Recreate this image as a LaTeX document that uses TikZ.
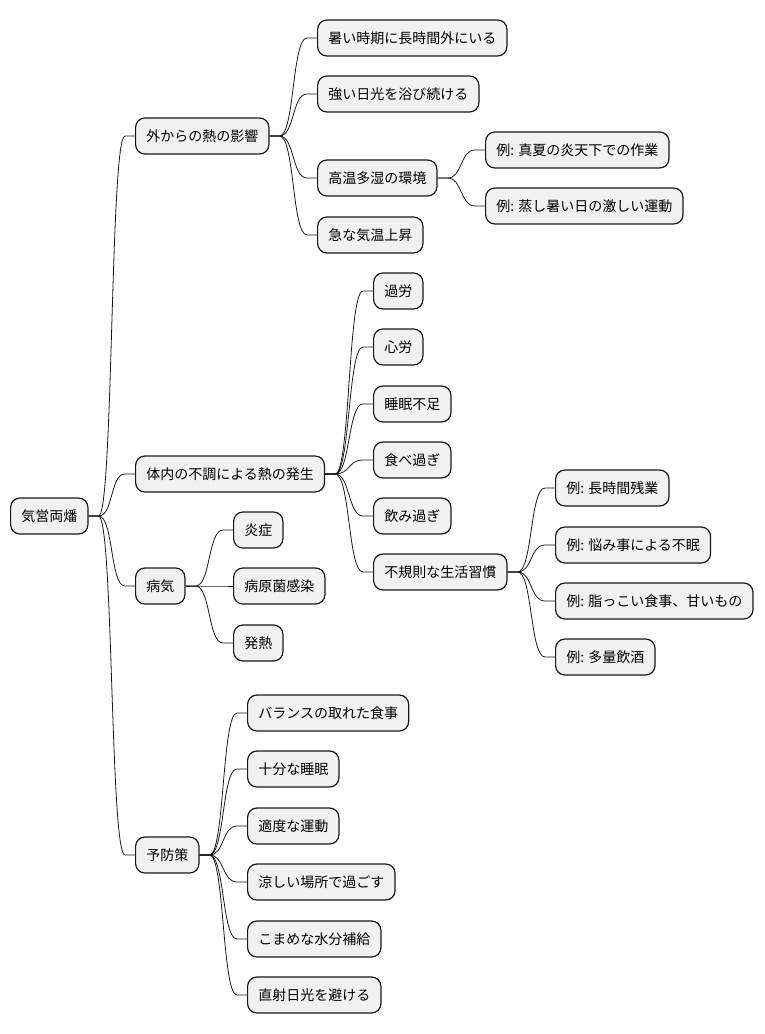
\documentclass[tikz,border=0pt]{standalone}
\usepackage{fontspec}
\setmainfont{Noto Sans CJK JP}
\usetikzlibrary{positioning,calc}
\definecolor{boxfill}{HTML}{F1F1F1}
\definecolor{boxline}{HTML}{181818}

\tikzset{
  box/.style={draw=boxline,line width=0.9pt,fill=boxfill,rounded corners=7pt,
    anchor=west,minimum height=27pt,inner xsep=8pt,font=\fontsize{10.5}{12}\selectfont},
  link/.style={draw=boxline,line width=0.6pt}
}
\newcommand{\conn}[2]{\draw[link] (#1.east) -- ++(10,0) .. controls +(15,0) and +(-15,0) .. ([xshift=-7.5pt]#2.west) -- (#2.west);}

\begin{document}
\begin{tikzpicture}[x=0.75pt,y=-0.75pt]
\useasboundingbox (0,0) rectangle (764,1034);
% root
\node[box] (root) at (10,516) {気営両燔};
% first level
\node[box] (ext) at (135,136) {外からの熱の影響};
\node[box] (int) at (135,474) {体内の不調による熱の発生};
\node[box] (ill) at (135,586) {病気};
\node[box] (prev) at (135,855) {予防策};
% outside heat
\node[box] (e1) at (317,38) {暑い時期に長時間外にいる};
\node[box] (e2) at (317,94) {強い日光を浴び続ける};
\node[box] (e3) at (317,178) {高温多湿の環境};
\node[box] (e4) at (317,235) {急な気温上昇};
\node[box] (e3a) at (485,150) {例: 真夏の炎天下での作業};
\node[box] (e3b) at (485,206) {例: 蒸し暑い日の激しい運動};
% inner disorder
\node[box] (i1) at (373,291) {過労};
\node[box] (i2) at (373,347) {心労};
\node[box] (i3) at (373,404) {睡眠不足};
\node[box] (i4) at (373,460) {食べ過ぎ};
\node[box] (i5) at (373,516) {飲み過ぎ};
\node[box] (i6) at (373,572) {不規則な生活習慣};
\node[box] (i6a) at (555,488) {例: 長時間残業};
\node[box] (i6b) at (555,545) {例: 悩み事による不眠};
\node[box] (i6c) at (555,601) {例: 脂っこい食事、甘いもの};
\node[box] (i6d) at (555,657) {例: 多量飲酒};
% illness
\node[box] (d1) at (233,530) {炎症};
\node[box] (d2) at (233,586) {病原菌感染};
\node[box] (d3) at (233,643) {発熱};
% prevention
\node[box] (p1) at (247,713) {バランスの取れた食事};
\node[box] (p2) at (247,769) {十分な睡眠};
\node[box] (p3) at (247,826) {適度な運動};
\node[box] (p4) at (247,882) {涼しい場所で過ごす};
\node[box] (p5) at (247,939) {こまめな水分補給};
\node[box] (p6) at (247,995) {直射日光を避ける};

\foreach \a/\b in {root/ext,root/int,root/ill,root/prev,
  ext/e1,ext/e2,ext/e3,ext/e4,e3/e3a,e3/e3b,
  int/i1,int/i2,int/i3,int/i4,int/i5,int/i6,
  i6/i6a,i6/i6b,i6/i6c,i6/i6d,
  ill/d1,ill/d2,ill/d3,
  prev/p1,prev/p2,prev/p3,prev/p4,prev/p5,prev/p6}
  {\conn{\a}{\b}}
\end{tikzpicture}
\end{document}
